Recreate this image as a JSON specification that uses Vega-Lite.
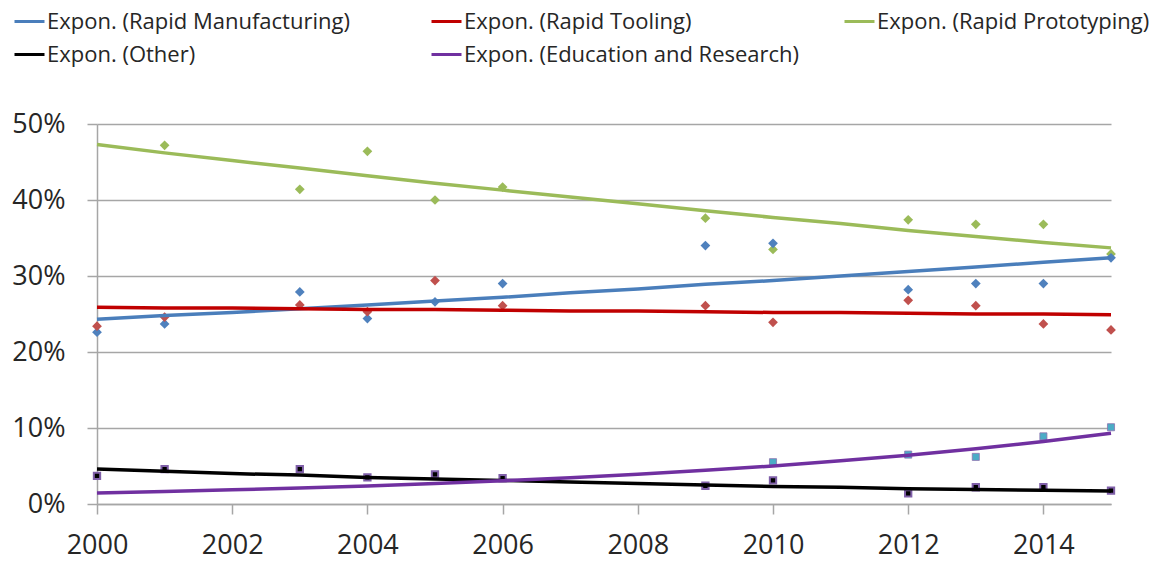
{
  "$schema": "https://vega.github.io/schema/vega-lite/v6.json",
  "width": 1014,
  "height": 380,
  "autosize": "none",
  "padding": {"left": 97, "top": 124, "right": 46, "bottom": 57},
  "background": "white",
  "config": {
    "view": {"stroke": null},
    "font": "Open Sans",
    "legend": {
      "symbolType": "stroke",
      "symbolSize": 900,
      "symbolStrokeWidth": 3,
      "labelFont": "Open Sans",
      "labelFontSize": 22,
      "labelColor": "#262626",
      "labelOffset": 1,
      "labelLimit": 600,
      "padding": 0,
      "title": null
    }
  },
  "datasets": {
    "pts": [
      {"year": 2001, "series": "Rapid Prototyping", "value": 0.472},
      {"year": 2003, "series": "Rapid Prototyping", "value": 0.414},
      {"year": 2004, "series": "Rapid Prototyping", "value": 0.464},
      {"year": 2005, "series": "Rapid Prototyping", "value": 0.400},
      {"year": 2006, "series": "Rapid Prototyping", "value": 0.417},
      {"year": 2009, "series": "Rapid Prototyping", "value": 0.376},
      {"year": 2010, "series": "Rapid Prototyping", "value": 0.335},
      {"year": 2012, "series": "Rapid Prototyping", "value": 0.374},
      {"year": 2013, "series": "Rapid Prototyping", "value": 0.368},
      {"year": 2014, "series": "Rapid Prototyping", "value": 0.368},
      {"year": 2015, "series": "Rapid Prototyping", "value": 0.329},
      {"year": 2000, "series": "Rapid Manufacturing", "value": 0.226},
      {"year": 2001, "series": "Rapid Manufacturing", "value": 0.237},
      {"year": 2003, "series": "Rapid Manufacturing", "value": 0.279},
      {"year": 2004, "series": "Rapid Manufacturing", "value": 0.244},
      {"year": 2005, "series": "Rapid Manufacturing", "value": 0.266},
      {"year": 2006, "series": "Rapid Manufacturing", "value": 0.290},
      {"year": 2009, "series": "Rapid Manufacturing", "value": 0.340},
      {"year": 2010, "series": "Rapid Manufacturing", "value": 0.343},
      {"year": 2012, "series": "Rapid Manufacturing", "value": 0.282},
      {"year": 2013, "series": "Rapid Manufacturing", "value": 0.290},
      {"year": 2014, "series": "Rapid Manufacturing", "value": 0.290},
      {"year": 2015, "series": "Rapid Manufacturing", "value": 0.324},
      {"year": 2000, "series": "Rapid Tooling", "value": 0.234},
      {"year": 2001, "series": "Rapid Tooling", "value": 0.246},
      {"year": 2003, "series": "Rapid Tooling", "value": 0.262},
      {"year": 2004, "series": "Rapid Tooling", "value": 0.253},
      {"year": 2005, "series": "Rapid Tooling", "value": 0.294},
      {"year": 2006, "series": "Rapid Tooling", "value": 0.261},
      {"year": 2009, "series": "Rapid Tooling", "value": 0.261},
      {"year": 2010, "series": "Rapid Tooling", "value": 0.239},
      {"year": 2012, "series": "Rapid Tooling", "value": 0.268},
      {"year": 2013, "series": "Rapid Tooling", "value": 0.261},
      {"year": 2014, "series": "Rapid Tooling", "value": 0.237},
      {"year": 2015, "series": "Rapid Tooling", "value": 0.229},
      {"year": 2000, "series": "Other", "value": 0.037},
      {"year": 2001, "series": "Other", "value": 0.046},
      {"year": 2003, "series": "Other", "value": 0.046},
      {"year": 2004, "series": "Other", "value": 0.035},
      {"year": 2005, "series": "Other", "value": 0.039},
      {"year": 2006, "series": "Other", "value": 0.034},
      {"year": 2009, "series": "Other", "value": 0.024},
      {"year": 2010, "series": "Other", "value": 0.031},
      {"year": 2012, "series": "Other", "value": 0.014},
      {"year": 2013, "series": "Other", "value": 0.022},
      {"year": 2014, "series": "Other", "value": 0.022},
      {"year": 2015, "series": "Other", "value": 0.0175},
      {"year": 2010, "series": "Education and Research", "value": 0.055},
      {"year": 2012, "series": "Education and Research", "value": 0.065},
      {"year": 2013, "series": "Education and Research", "value": 0.062},
      {"year": 2014, "series": "Education and Research", "value": 0.089},
      {"year": 2015, "series": "Education and Research", "value": 0.101}
    ],
    "trend": [
      {"year": 2000, "series": "Rapid Manufacturing", "value": 0.243},
      {"year": 2001, "series": "Rapid Manufacturing", "value": 0.248},
      {"year": 2002, "series": "Rapid Manufacturing", "value": 0.252},
      {"year": 2003, "series": "Rapid Manufacturing", "value": 0.257},
      {"year": 2004, "series": "Rapid Manufacturing", "value": 0.262},
      {"year": 2005, "series": "Rapid Manufacturing", "value": 0.267},
      {"year": 2006, "series": "Rapid Manufacturing", "value": 0.272},
      {"year": 2007, "series": "Rapid Manufacturing", "value": 0.278},
      {"year": 2008, "series": "Rapid Manufacturing", "value": 0.283},
      {"year": 2009, "series": "Rapid Manufacturing", "value": 0.289},
      {"year": 2010, "series": "Rapid Manufacturing", "value": 0.294},
      {"year": 2011, "series": "Rapid Manufacturing", "value": 0.300},
      {"year": 2012, "series": "Rapid Manufacturing", "value": 0.306},
      {"year": 2013, "series": "Rapid Manufacturing", "value": 0.312},
      {"year": 2014, "series": "Rapid Manufacturing", "value": 0.318},
      {"year": 2015, "series": "Rapid Manufacturing", "value": 0.324},
      {"year": 2000, "series": "Rapid Tooling", "value": 0.259},
      {"year": 2001, "series": "Rapid Tooling", "value": 0.258},
      {"year": 2002, "series": "Rapid Tooling", "value": 0.258},
      {"year": 2003, "series": "Rapid Tooling", "value": 0.257},
      {"year": 2004, "series": "Rapid Tooling", "value": 0.256},
      {"year": 2005, "series": "Rapid Tooling", "value": 0.256},
      {"year": 2006, "series": "Rapid Tooling", "value": 0.255},
      {"year": 2007, "series": "Rapid Tooling", "value": 0.254},
      {"year": 2008, "series": "Rapid Tooling", "value": 0.254},
      {"year": 2009, "series": "Rapid Tooling", "value": 0.253},
      {"year": 2010, "series": "Rapid Tooling", "value": 0.252},
      {"year": 2011, "series": "Rapid Tooling", "value": 0.252},
      {"year": 2012, "series": "Rapid Tooling", "value": 0.251},
      {"year": 2013, "series": "Rapid Tooling", "value": 0.250},
      {"year": 2014, "series": "Rapid Tooling", "value": 0.250},
      {"year": 2015, "series": "Rapid Tooling", "value": 0.249},
      {"year": 2000, "series": "Rapid Prototyping", "value": 0.473},
      {"year": 2001, "series": "Rapid Prototyping", "value": 0.462},
      {"year": 2002, "series": "Rapid Prototyping", "value": 0.452},
      {"year": 2003, "series": "Rapid Prototyping", "value": 0.442},
      {"year": 2004, "series": "Rapid Prototyping", "value": 0.432},
      {"year": 2005, "series": "Rapid Prototyping", "value": 0.422},
      {"year": 2006, "series": "Rapid Prototyping", "value": 0.413},
      {"year": 2007, "series": "Rapid Prototyping", "value": 0.404},
      {"year": 2008, "series": "Rapid Prototyping", "value": 0.395},
      {"year": 2009, "series": "Rapid Prototyping", "value": 0.386},
      {"year": 2010, "series": "Rapid Prototyping", "value": 0.377},
      {"year": 2011, "series": "Rapid Prototyping", "value": 0.369},
      {"year": 2012, "series": "Rapid Prototyping", "value": 0.360},
      {"year": 2013, "series": "Rapid Prototyping", "value": 0.352},
      {"year": 2014, "series": "Rapid Prototyping", "value": 0.344},
      {"year": 2015, "series": "Rapid Prototyping", "value": 0.337},
      {"year": 2000, "series": "Other", "value": 0.046},
      {"year": 2001, "series": "Other", "value": 0.043},
      {"year": 2002, "series": "Other", "value": 0.040},
      {"year": 2003, "series": "Other", "value": 0.038},
      {"year": 2004, "series": "Other", "value": 0.035},
      {"year": 2005, "series": "Other", "value": 0.033},
      {"year": 2006, "series": "Other", "value": 0.031},
      {"year": 2007, "series": "Other", "value": 0.029},
      {"year": 2008, "series": "Other", "value": 0.027},
      {"year": 2009, "series": "Other", "value": 0.025},
      {"year": 2010, "series": "Other", "value": 0.023},
      {"year": 2011, "series": "Other", "value": 0.022},
      {"year": 2012, "series": "Other", "value": 0.020},
      {"year": 2013, "series": "Other", "value": 0.019},
      {"year": 2014, "series": "Other", "value": 0.018},
      {"year": 2015, "series": "Other", "value": 0.017},
      {"year": 2000, "series": "Education and Research", "value": 0.0145},
      {"year": 2001, "series": "Education and Research", "value": 0.0164},
      {"year": 2002, "series": "Education and Research", "value": 0.0186},
      {"year": 2003, "series": "Education and Research", "value": 0.021},
      {"year": 2004, "series": "Education and Research", "value": 0.0238},
      {"year": 2005, "series": "Education and Research", "value": 0.027},
      {"year": 2006, "series": "Education and Research", "value": 0.0305},
      {"year": 2007, "series": "Education and Research", "value": 0.0346},
      {"year": 2008, "series": "Education and Research", "value": 0.0391},
      {"year": 2009, "series": "Education and Research", "value": 0.0443},
      {"year": 2010, "series": "Education and Research", "value": 0.0501},
      {"year": 2011, "series": "Education and Research", "value": 0.0568},
      {"year": 2012, "series": "Education and Research", "value": 0.0643},
      {"year": 2013, "series": "Education and Research", "value": 0.0727},
      {"year": 2014, "series": "Education and Research", "value": 0.0823},
      {"year": 2015, "series": "Education and Research", "value": 0.0932}
    ]
  },
  "encoding": {
    "x": {
      "field": "year",
      "type": "quantitative",
      "scale": {"domain": [2000, 2015], "nice": false, "zero": false},
      "axis": {
        "title": null,
        "values": [2000, 2002, 2004, 2006, 2008, 2010, 2012, 2014],
        "format": "d",
        "labelFont": "Open Sans",
        "labelFontSize": 27,
        "labelColor": "#262626",
        "labelFlush": false,
        "labelOverlap": false,
        "labelPadding": 18,
        "tickSize": 10,
        "tickColor": "#A6A6A6",
        "tickWidth": 1.5,
        "domainColor": "#A6A6A6",
        "domainWidth": 1.5,
        "grid": false
      }
    },
    "y": {
      "field": "value",
      "type": "quantitative",
      "scale": {"domain": [0, 0.5], "nice": false},
      "axis": {
        "title": null,
        "values": [0, 0.1, 0.2, 0.3, 0.4, 0.5],
        "format": ".0%",
        "labelFont": "Open Sans",
        "labelFontSize": 27,
        "labelColor": "#262626",
        "labelPadding": 22,
        "labelOverlap": false,
        "tickSize": 10,
        "tickColor": "#A6A6A6",
        "tickWidth": 1.5,
        "domainColor": "#A6A6A6",
        "domainWidth": 1.5,
        "grid": true,
        "gridColor": "#A6A6A6",
        "gridWidth": 1.5
      }
    }
  },
  "layer": [
    {
      "data": {"name": "pts"},
      "transform": [{"filter": "indexof(['Rapid Manufacturing','Rapid Tooling','Rapid Prototyping'], datum.series) >= 0"}],
      "mark": {"type": "point", "shape": "diamond", "filled": true, "size": 95, "opacity": 1},
      "encoding": {
        "color": {
          "field": "series",
          "type": "nominal",
          "scale": {"domain": ["Rapid Manufacturing", "Rapid Tooling", "Rapid Prototyping"], "range": ["#4F81BD", "#C0504D", "#9BBB59"]},
          "legend": null
        }
      }
    },
    {
      "data": {"name": "pts"},
      "transform": [{"filter": "datum.series == 'Other'"}],
      "mark": {"type": "square", "size": 40, "fill": "#000000", "stroke": "#7F5FA8", "strokeWidth": 2, "opacity": 1},
      "encoding": {}
    },
    {
      "data": {"name": "pts"},
      "transform": [{"filter": "datum.series == 'Education and Research'"}],
      "mark": {"type": "square", "size": 50, "fill": "#4BACC6", "stroke": "#8C72B0", "strokeWidth": 0.8, "opacity": 1},
      "encoding": {}
    },
    {
      "data": {"name": "trend"},
      "transform": [{"filter": "datum.series == 'Rapid Manufacturing'"}],
      "mark": {"type": "line", "strokeWidth": 3.5},
      "encoding": {
        "stroke": {"field": "series", "type": "nominal", "scale": {"domain": ["Rapid Manufacturing"], "range": ["#4A7EBB"]},
          "legend": {"orient": "none", "legendX": -84, "legendY": -119, "labelExpr": "'Expon. (' + datum.label + ')'"}}
      }
    },
    {
      "data": {"name": "trend"},
      "transform": [{"filter": "datum.series == 'Rapid Tooling'"}],
      "mark": {"type": "line", "strokeWidth": 3.5},
      "encoding": {
        "stroke": {"field": "series", "type": "nominal", "scale": {"domain": ["Rapid Tooling"], "range": ["#C00000"]},
          "legend": {"orient": "none", "legendX": 333, "legendY": -119, "labelExpr": "'Expon. (' + datum.label + ')'"}}
      }
    },
    {
      "data": {"name": "trend"},
      "transform": [{"filter": "datum.series == 'Rapid Prototyping'"}],
      "mark": {"type": "line", "strokeWidth": 3.5},
      "encoding": {
        "stroke": {"field": "series", "type": "nominal", "scale": {"domain": ["Rapid Prototyping"], "range": ["#9BBB59"]},
          "legend": {"orient": "none", "legendX": 746, "legendY": -119, "labelExpr": "'Expon. (' + datum.label + ')'"}}
      }
    },
    {
      "data": {"name": "trend"},
      "transform": [{"filter": "datum.series == 'Other'"}],
      "mark": {"type": "line", "strokeWidth": 3.5},
      "encoding": {
        "stroke": {"field": "series", "type": "nominal", "scale": {"domain": ["Other"], "range": ["#000000"]},
          "legend": {"orient": "none", "legendX": -84, "legendY": -86, "labelExpr": "'Expon. (' + datum.label + ')'"}}
      }
    },
    {
      "data": {"name": "trend"},
      "transform": [{"filter": "datum.series == 'Education and Research'"}],
      "mark": {"type": "line", "strokeWidth": 3.5},
      "encoding": {
        "stroke": {"field": "series", "type": "nominal", "scale": {"domain": ["Education and Research"], "range": ["#7030A0"]},
          "legend": {"orient": "none", "legendX": 333, "legendY": -86, "labelExpr": "'Expon. (' + datum.label + ')'"}}
      }
    }
  ],
  "resolve": {"scale": {"stroke": "independent"}}
}
